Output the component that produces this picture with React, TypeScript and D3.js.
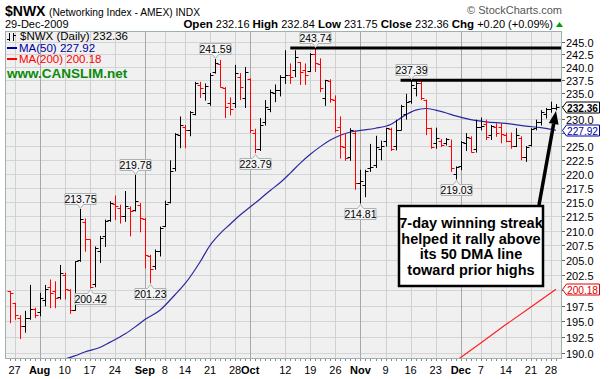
import React from "react";
import * as d3 from "d3";

const dates = [
  "2009-07-24","2009-07-27","2009-07-28","2009-07-29","2009-07-30","2009-07-31",
  "2009-08-03","2009-08-04","2009-08-05","2009-08-06","2009-08-07",
  "2009-08-10","2009-08-11","2009-08-12","2009-08-13","2009-08-14",
  "2009-08-17","2009-08-18","2009-08-19","2009-08-20","2009-08-21",
  "2009-08-24","2009-08-25","2009-08-26","2009-08-27","2009-08-28","2009-08-31",
  "2009-09-01","2009-09-02","2009-09-03","2009-09-04",
  "2009-09-08","2009-09-09","2009-09-10","2009-09-11",
  "2009-09-14","2009-09-15","2009-09-16","2009-09-17","2009-09-18",
  "2009-09-21","2009-09-22","2009-09-23","2009-09-24","2009-09-25",
  "2009-09-28","2009-09-29","2009-09-30",
  "2009-10-01","2009-10-02",
  "2009-10-05","2009-10-06","2009-10-07","2009-10-08","2009-10-09",
  "2009-10-12","2009-10-13","2009-10-14","2009-10-15","2009-10-16",
  "2009-10-19","2009-10-20","2009-10-21","2009-10-22","2009-10-23",
  "2009-10-26","2009-10-27","2009-10-28","2009-10-29","2009-10-30",
  "2009-11-02","2009-11-03","2009-11-04","2009-11-05","2009-11-06",
  "2009-11-09","2009-11-10","2009-11-11","2009-11-12","2009-11-13",
  "2009-11-16","2009-11-17","2009-11-18","2009-11-19","2009-11-20",
  "2009-11-23","2009-11-24","2009-11-25","2009-11-27","2009-11-30",
  "2009-12-01","2009-12-02","2009-12-03","2009-12-04",
  "2009-12-07","2009-12-08","2009-12-09","2009-12-10","2009-12-11",
  "2009-12-14","2009-12-15","2009-12-16","2009-12-17","2009-12-18",
  "2009-12-21","2009-12-22","2009-12-23","2009-12-24",
  "2009-12-28","2009-12-29",
];

const opens = [
  199.9,197.9,195.5,194.3,195.5,197.0,196.5,198.5,200.5,199.9,199.0,202.5,200.0,196.9,205.0,211.5,
  208.5,201.0,206.5,209.0,211.8,214.6,214.0,212.6,214.0,213.6,214.5,212.0,205.7,204.0,206.5,
  210.8,215.0,221.0,227.0,228.5,228.0,231.0,236.5,235.0,233.0,239.0,240.5,236.0,233.0,233.0,
  238.0,234.0,237.6,227.5,224.5,229.5,232.0,235.0,235.5,238.0,238.5,239.5,241.0,239.5,239.3,
  242.5,240.5,234.0,237.3,233.7,228.5,224.8,223.0,227.5,218.3,218.0,221.0,221.5,224.5,226.0,
  228.2,225.0,228.0,231.0,233.5,236.0,236.8,233.7,228.4,225.5,226.0,225.5,225.0,220.0,221.3,
  225.5,226.5,224.5,228.5,229.0,227.0,228.5,228.5,227.0,226.0,225.0,226.5,223.0,225.2,228.3,
  229.5,231.0,232.0,232.16,
];
const highs = [
  199.9,198.0,196.0,196.7,200.9,197.2,199.6,200.9,201.8,201.5,204.2,202.9,200.2,204.8,213.75,212.1,
  208.5,207.3,209.1,211.9,215.1,216.1,214.5,216.9,214.2,219.78,214.8,212.2,205.9,206.8,210.7,
  215.2,222.4,227.4,230.5,228.9,231.5,237.1,237.1,236.8,238.8,241.59,241.4,236.1,234.1,240.4,
  238.8,240.0,237.8,228.2,230.2,233.6,235.6,236.6,238.4,243.3,240.7,243.3,241.0,240.7,242.7,
  243.74,241.7,237.5,237.6,234.5,230.5,227.4,228.3,227.8,220.7,220.7,225.4,226.9,226.0,228.4,
  228.4,229.9,232.7,234.8,237.39,237.3,237.3,233.7,228.4,228.4,226.3,226.5,226.2,221.3,225.9,
  227.4,226.8,229.9,230.3,229.9,228.9,229.2,229.2,227.5,227.5,228.3,226.8,225.0,228.3,229.9,
  231.7,232.1,233.3,232.84,
];
const lows = [
  194.8,195.35,192.3,193.3,195.35,195.6,195.9,197.5,197.2,197.2,198.6,198.6,196.3,196.8,204.8,206.5,
  200.42,200.6,204.6,207.3,211.6,211.9,211.3,211.6,209.1,213.4,209.8,203.7,201.23,203.5,205.7,
  210.7,214.8,220.5,224.7,224.7,226.9,230.8,234.1,233.6,232.6,238.8,236.1,230.3,230.8,232.2,
  233.7,232.2,227.5,223.79,224.2,228.9,231.4,233.3,234.4,236.8,236.8,238.1,236.6,236.6,239.1,
  239.1,235.2,232.6,233.2,227.6,222.8,222.4,222.4,217.2,214.81,215.9,220.4,221.1,222.5,225.0,
  224.2,224.3,228.0,230.0,233.0,234.4,233.7,227.1,224.6,224.6,224.9,225.2,220.4,219.03,220.7,
  224.2,223.9,223.9,228.0,226.2,226.2,226.8,225.6,225.8,224.6,224.9,222.5,222.2,225.0,228.0,
  228.9,230.2,231.3,231.75,
];
const closes = [
  199.6,196.0,194.3,195.5,196.95,196.0,198.8,200.2,199.6,198.8,202.9,200.2,196.8,204.8,212.0,208.5,
  200.6,207.0,208.8,211.6,214.8,214.2,212.5,214.2,213.4,215.1,212.2,205.8,203.6,206.5,210.5,
  214.6,220.5,227.2,228.9,228.0,231.3,236.8,236.0,236.3,238.4,240.8,236.2,232.2,232.0,238.8,
  236.1,239.0,228.0,224.5,228.9,232.2,235.2,235.6,238.1,238.4,238.1,242.0,239.1,238.4,242.6,
  240.7,235.9,237.4,233.8,228.0,225.0,222.8,228.0,218.3,218.6,220.4,221.2,224.8,225.0,228.3,
  224.5,228.0,232.5,233.2,236.5,236.8,234.0,228.4,224.9,226.5,225.2,226.3,221.0,221.2,225.7,
  226.6,224.0,228.5,228.7,226.6,228.8,227.5,227.2,225.9,225.0,227.0,223.0,224.8,228.1,229.4,
  231.4,231.9,232.16,232.36,
];

// 50-day moving average, read at sample dates
const ma50Dates = [
  "2009-08-07","2009-08-12","2009-08-14","2009-08-19","2009-08-21","2009-08-26","2009-08-28",
  "2009-09-01","2009-09-04","2009-09-10","2009-09-14","2009-09-17","2009-09-21","2009-09-23",
  "2009-09-25","2009-09-29","2009-10-01","2009-10-05","2009-10-07","2009-10-09","2009-10-13",
  "2009-10-15","2009-10-19","2009-10-21","2009-10-23","2009-10-27","2009-10-29","2009-11-02",
  "2009-11-05","2009-11-10","2009-11-13","2009-11-17","2009-11-19","2009-11-23","2009-11-25",
  "2009-11-30","2009-12-03","2009-12-08","2009-12-14","2009-12-18","2009-12-23","2009-12-29",
];
const ma50Values = [
  188.9,189.6,190.2,190.9,191.7,193.0,194.1,
  195.3,196.8,199.3,201.1,204.7,207.5,209.5,
  211.1,212.7,214.1,215.5,217.0,218.4,220.1,
  221.9,223.5,224.9,226.1,227.0,227.6,227.9,
  228.3,229.0,230.8,231.7,232.0,231.7,231.2,
  230.6,229.9,229.5,229.2,228.7,228.4,227.92,
];
// 200-day moving average
const ma200Dates = ["2009-11-30","2009-12-07","2009-12-14","2009-12-21","2009-12-29"];
const ma200Values = [188.8, 191.6, 194.5, 197.3, 200.18];

// x-axis labels
const tickDates = [
  "2009-07-27","2009-08-03","2009-08-10","2009-08-17","2009-08-24","2009-09-01","2009-09-08",
  "2009-09-14","2009-09-21","2009-09-28","2009-10-01","2009-10-12","2009-10-19","2009-10-26",
  "2009-11-02","2009-11-09","2009-11-16","2009-11-23","2009-12-01","2009-12-07","2009-12-14",
  "2009-12-21","2009-12-28",
];
const tickLabels = [
  "27","Aug","10","17","24","Sep","8","14","21","28","Oct","12","19","26",
  "Nov","9","16","23","Dec","7","14","21","28",
];

// price callouts
const calloutDates = ["2009-08-13","2009-08-28","2009-09-22","2009-10-20","2009-11-16",
  "2009-08-17","2009-09-02","2009-10-02","2009-11-02","2009-11-30"];
const calloutValues = [213.75, 219.78, 241.59, 243.74, 237.39, 200.42, 201.23, 223.79, 214.81, 219.03];
const calloutAbove = [true, true, true, true, true, false, false, false, false, false];

// resistance lines
const resistStart = ["2009-10-13", "2009-11-12"];
const resistValues = [243.74, 237.39];

const noteLines = ["7-day winning streak", "helped it rally above", "its 50 DMA line", "toward prior highs"];

const FONT = "'Liberation Sans', Arial, Helvetica, sans-serif";

export default function App() {
  const L = 5, T = 31, R = 562, B = 359;
  const x = d3.scalePoint<string>().domain(dates).range([9.5, 556]);
  const y = d3.scaleLog().domain([190, 245]).range([353.3, 41.7]);
  const yTicks = d3.range(0, 23).map((k) => 190 + k * 2.5);

  const last = closes.length - 1;
  const lastMa50 = ma50Values[ma50Values.length - 1];
  const lastMa200 = ma200Values[ma200Values.length - 1];
  const special = [closes[last], lastMa50, lastMa200];

  const ma50Line = d3.line<number>()
    .x((_, i) => x(ma50Dates[i]) as number)
    .y((v) => y(v))
    .curve(d3.curveMonotoneX)(ma50Values) as string;
  const ma200Line = d3.line<number>()
    .x((_, i) => x(ma200Dates[i]) as number)
    .y((v) => y(v))(ma200Values) as string;

  const bars = dates.map((d, i) => {
    const up = i === 0 ? closes[i] >= opens[i] : closes[i] >= closes[i - 1];
    const cx = Math.round(x(d) as number) + 0.5;
    const col = up ? "#000000" : "#ff0000";
    return (
      <g key={d} stroke={col} strokeWidth={1}>
        <line x1={cx} x2={cx} y1={y(highs[i])} y2={y(lows[i]) + 0.5} />
        <line x1={cx - 3} x2={cx} y1={Math.round(y(opens[i])) + 0.5} y2={Math.round(y(opens[i])) + 0.5} />
        <line x1={cx} x2={cx + 3} y1={Math.round(y(closes[i])) + 0.5} y2={Math.round(y(closes[i])) + 0.5} />
      </g>
    );
  });

  const callouts = calloutDates.map((d, k) => {
    const cx = Math.round(x(d) as number) + 0.5;
    const py = y(calloutValues[k]);
    const w = 31, h = 11, tri = 4;
    let path: string, ty: number;
    if (calloutAbove[k]) {
      const bb = Math.round(py - 1 - tri) + 0.5;
      const bt = bb - h;
      path = `M${cx - w / 2},${bt}H${cx + w / 2}V${bb}H${cx + 3}L${cx},${bb + tri}L${cx - 3},${bb}H${cx - w / 2}Z`;
      ty = bb - 2;
    } else {
      const bt = Math.round(py + 1 + tri) + 0.5;
      const bb = bt + h;
      path = `M${cx - w / 2},${bt}H${cx - 3}L${cx},${bt - tri}L${cx + 3},${bt}H${cx + w / 2}V${bb}H${cx - w / 2}Z`;
      ty = bb - 2;
    }
    return (
      <g key={"c" + k}>
        <path d={path} fill="#f4f4f4" stroke="#a9b3b3" strokeWidth={1} />
        <text x={cx} y={ty} textAnchor="middle" fontSize={10.5} fontFamily={FONT} fill="#000">
          {calloutValues[k].toFixed(2)}
        </text>
      </g>
    );
  });

  const priceTag = (v: number, color: string, bold: boolean, key: string) => {
    const py = Math.round(y(v)) + 0.5;
    const x0 = 562.5, x1 = 566.5, x2 = 599.5;
    const path = `M${x0},${py}L${x1},${py - 5.5}H${x2}V${py + 5.5}H${x1}Z`;
    return (
      <g key={key}>
        <path d={path} fill="#fff" stroke={color} strokeWidth={1} />
        <text x={567} y={py + 4} fontSize={10.5} fontWeight={bold ? "bold" : "normal"} fontFamily={FONT} fill={color}
          textLength={31} lengthAdjust="spacingAndGlyphs">
          {v.toFixed(2)}
        </text>
      </g>
    );
  };

  // arrow geometry
  const ax0 = 539, ay0 = 205, ax1 = 556, ay1 = 111;
  const len = Math.hypot(ax1 - ax0, ay1 - ay0);
  const ux = (ax1 - ax0) / len, uy = (ay1 - ay0) / len;
  const hb = { x: ax1 - 13 * ux, y: ay1 - 13 * uy };
  const px = -uy, py2 = ux;
  const head = `M${ax1},${ay1}L${hb.x + 5 * px},${hb.y + 5 * py2}L${hb.x - 5 * px},${hb.y - 5 * py2}Z`;

  return (
    <svg width={609} height={379} style={{ position: "absolute", left: 0, top: 0, background: "#fff" }} fontFamily={FONT}>
      <defs>
        <clipPath id="plot">
          <rect x={L} y={T} width={R - L} height={B - T} />
        </clipPath>
      </defs>

      {/* header */}
      <text x={5} y={16} fontSize={14} fontWeight="bold" fill="#000">$NWX</text>
      <text x={49} y={16} fontSize={11} fill="#000" textLength={151} lengthAdjust="spacingAndGlyphs">(Networking Index - AMEX) INDX</text>
      <text x={562} y={14} fontSize={11} fill="#555" textAnchor="end">© StockCharts.com</text>
      <text x={5} y={28} fontSize={11} fill="#000">29-Dec-2009</text>
      <text x={553} y={28} fontSize={11} textAnchor="end" fill="#000">
        <tspan fontWeight="bold" fontSize={11.5}>Open</tspan> 232.16{" "}
        <tspan fontWeight="bold" fontSize={11.5}>High</tspan> 232.84{" "}
        <tspan fontWeight="bold" fontSize={11.5}>Low</tspan> 231.75{" "}
        <tspan fontWeight="bold" fontSize={11.5}>Close</tspan> 232.36{" "}
        <tspan fontWeight="bold" fontSize={11.5}>Chg</tspan> +0.20 (+0.09%)
      </text>
      <path d="M556,27L559.5,22L563,27Z" fill="#00a000" />

      {/* plot background */}
      <rect x={L} y={T} width={R - L} height={B - T} fill="#f0f0f0" />
      <g clipPath="url(#plot)">
        {yTicks.map((v) => (
          <line key={"h" + v} x1={L} x2={R} y1={Math.round(y(v)) + 0.5} y2={Math.round(y(v)) + 0.5} stroke="#d4d4d4" />
        ))}
        {tickDates.map((d, k) => {
          const month = /[A-Za-z]/.test(tickLabels[k]);
          const vx = Math.round(x(d) as number) + 0.5;
          return <line key={"v" + d} x1={vx} x2={vx} y1={T} y2={B} stroke={month ? "#a8a8a8" : "#d0d0d0"} />;
        })}
        <path d={ma50Line} fill="none" stroke="#2a2aa0" strokeWidth={1.2} />
        <path d={ma200Line} fill="none" stroke="#ff2020" strokeWidth={1.2} />
        {bars}
        {resistStart.map((d, k) => (
          <line key={"r" + k} x1={x(d) as number} x2={R} y1={y(resistValues[k])} y2={y(resistValues[k])} stroke="#000" strokeWidth={3} />
        ))}
        {callouts}
      </g>
      <rect x={L + 0.5} y={T + 0.5} width={R - L - 1} height={B - T - 1} fill="none" stroke="#9fb0b0" />

      {/* legend */}
      <g stroke="#000" strokeWidth={1}>
        <line x1={9.5} x2={9.5} y1={33} y2={41} />
        <line x1={7} x2={9.5} y1={39.5} y2={39.5} />
        <line x1={13.5} x2={13.5} y1={33} y2={41} />
        <line x1={13.5} x2={16} y1={35.5} y2={35.5} />
      </g>
      <text x={20} y={40} fontSize={11.5} fill="#000">$NWX (Daily) 232.36</text>
      <line x1={7} x2={17} y1={48} y2={48} stroke="#0000a0" strokeWidth={2} />
      <text x={19} y={52} fontSize={11.5} fill="#0000a0">MA(50) 227.92</text>
      <line x1={7} x2={17} y1={59} y2={59} stroke="#ff0000" strokeWidth={2} />
      <text x={19} y={63} fontSize={11.5} fill="#ff0000">MA(200) 200.18</text>
      <text x={7} y={77.5} fontSize={13.5} fontWeight="bold" fill="#0a8a0a">www.CANSLIM.net</text>

      {/* y axis */}
      {yTicks.map((v) => {
        const py = Math.round(y(v)) + 0.5;
        const hidden = special.some((s) => Math.abs(y(s) - y(v)) < 8);
        return (
          <g key={"yt" + v}>
            <line x1={R} x2={R + 3} y1={py} y2={py} stroke="#666" />
            {!hidden && (
              <text x={566} y={py + 4} fontSize={11} fill="#000">{v.toFixed(1)}</text>
            )}
          </g>
        );
      })}
      {priceTag(closes[last], "#000", true, "p1")}
      {priceTag(lastMa50, "#0000a0", false, "p2")}
      {priceTag(lastMa200, "#e00000", false, "p3")}

      {/* x axis */}
      {dates.map((d) => {
        const vx = Math.round(x(d) as number) + 0.5;
        return <line key={"xt" + d} x1={vx} x2={vx} y1={B} y2={B + 2} stroke="#888" />;
      })}
      {tickDates.map((d, k) => {
        const month = /[A-Za-z]/.test(tickLabels[k]);
        return (
          <text key={"xl" + d} x={x(d) as number} y={374} fontSize={11} textAnchor="middle"
            fontWeight={month ? "bold" : "normal"} fill="#000">{tickLabels[k]}</text>
        );
      })}

      {/* annotation */}
      <line x1={ax0} y1={ay0} x2={hb.x} y2={hb.y} stroke="#000" strokeWidth={3.5} />
      <path d={head} fill="#000" />
      <rect x={399} y={206} width={144} height={80} fill="#fff" stroke="#000" strokeWidth={2.5} />
      {noteLines.map((t, k) => (
        <text key={"n" + k} x={471} y={228 + k * 15.7} fontSize={14.5} fontWeight="bold" textAnchor="middle" fill="#000">{t}</text>
      ))}
    </svg>
  );
}
